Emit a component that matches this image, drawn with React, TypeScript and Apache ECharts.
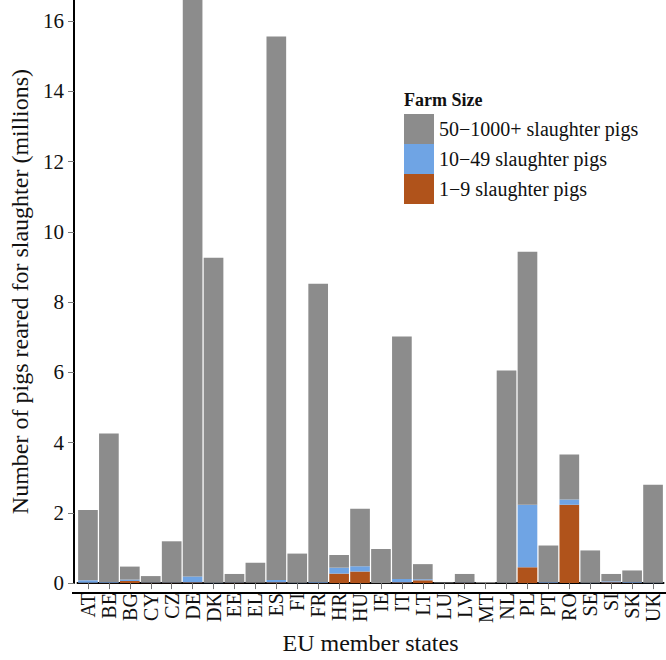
import React, { useEffect, useRef } from "react";
import * as echarts from "echarts";

const categories = [
  "AT", "BE", "BG", "CY", "CZ", "DE", "DK", "EE", "EL", "ES", "FI", "FR", "HR", "HU",
  "IE", "IT", "LT", "LU", "LV", "MT", "NL", "PL", "PT", "RO", "SE", "SI", "SK", "UK",
];

// 1–9 slaughter pigs (millions)
const smallFarms = [
  0.01, 0.01, 0.06, 0.01, 0.01, 0.02, 0.0, 0.01, 0.01, 0.02, 0.0, 0.01, 0.27, 0.33,
  0.0, 0.02, 0.08, 0.0, 0.01, 0.0, 0.0, 0.45, 0.01, 2.23, 0.0, 0.02, 0.01, 0.0,
];
// 10–49 slaughter pigs (millions)
const mediumFarms = [
  0.07, 0.02, 0.04, 0.01, 0.01, 0.17, 0.01, 0.01, 0.01, 0.07, 0.01, 0.02, 0.17, 0.15,
  0.0, 0.1, 0.03, 0.0, 0.01, 0.0, 0.01, 1.78, 0.02, 0.15, 0.01, 0.03, 0.02, 0.01,
];
// 50–1000+ slaughter pigs (millions)
const largeFarms = [
  2.0, 4.23, 0.37, 0.18, 1.17, 16.41, 9.25, 0.24, 0.56, 15.47, 0.83, 8.49, 0.36, 1.64,
  0.97, 6.9, 0.43, 0.02, 0.24, 0.03, 6.04, 7.2, 1.04, 1.28, 0.92, 0.21, 0.33, 2.79,
];

const yTicks = [0, 2, 4, 6, 8, 10, 12, 14, 16];
const seriesNames = ["50\u22121000+ slaughter pigs", "10\u221249 slaughter pigs", "1\u22129 slaughter pigs"];

export default function App() {
  const ref = useRef<HTMLDivElement>(null);
  useEffect(() => {
    const chart = echarts.init(ref.current!, null, { renderer: "svg" });
    const font = "Liberation Serif";
    chart.setOption({
      animation: false,
      backgroundColor: "#ffffff",
      textStyle: { fontFamily: font },
      title: {
        text: "Farm Size",
        left: 404,
        top: 91,
        padding: 0,
        textStyle: { fontFamily: font, fontSize: 18, fontWeight: "bold", color: "#111" },
      },
      legend: {
        orient: "vertical",
        left: 404,
        top: 114,
        padding: 0,
        itemWidth: 30,
        itemHeight: 30,
        itemGap: 0,
        icon: "rect",
        textStyle: { fontFamily: font, fontSize: 20, color: "#111" },
        data: seriesNames,
      },
      grid: { left: 75.5, right: 2.5, top: 0, bottom: 67 },
      xAxis: {
        type: "category",
        data: categories,
        axisLine: { show: true, lineStyle: { color: "#000", width: 2 } },
        axisTick: { show: true, alignWithLabel: true, length: 6, lineStyle: { color: "#777" } },
        axisLabel: { interval: 0, rotate: 90, fontSize: 20, color: "#111", margin: 10, fontFamily: font },
        name: "EU member states",
        nameLocation: "middle",
        nameGap: 44,
        nameTextStyle: { fontSize: 24, color: "#111", fontFamily: font },
      },
      yAxis: {
        type: "value",
        min: 0,
        max: 16.6,
        offset: 3.5,
        splitLine: { show: false },
        axisLine: { show: true, lineStyle: { color: "#000", width: 2 } },
        axisTick: { show: true, length: 6, customValues: yTicks, lineStyle: { color: "#777" } },
        axisLabel: { customValues: yTicks, fontSize: 21, color: "#111", margin: 10, fontFamily: font },
        name: "Number of pigs reared for slaughter (millions)",
        nameLocation: "middle",
        nameGap: 42,
        nameTextStyle: { fontSize: 24, color: "#111", fontFamily: font },
      },
      graphic: [
        {
          type: "line",
          shape: { x1: 72, y1: 593, x2: 666, y2: 593 },
          style: { stroke: "#000", lineWidth: 2 },
          z: 100,
        },
      ],
      series: [
        {
          name: seriesNames[2],
          type: "bar",
          stack: "total",
          data: smallFarms,
          barCategoryGap: "6%",
          itemStyle: { color: "#b0531b" },
        },
        {
          name: seriesNames[1],
          type: "bar",
          stack: "total",
          data: mediumFarms,
          barCategoryGap: "6%",
          itemStyle: { color: "#6fa4e4" },
        },
        {
          name: seriesNames[0],
          type: "bar",
          stack: "total",
          data: largeFarms,
          barCategoryGap: "6%",
          itemStyle: { color: "#8c8c8c" },
        },
      ],
    });
    return () => chart.dispose();
  }, []);
  return (
    <div
      ref={ref}
      style={{ position: "absolute", left: 0, top: 0, width: 666, height: 660 }}
    />
  );
}
